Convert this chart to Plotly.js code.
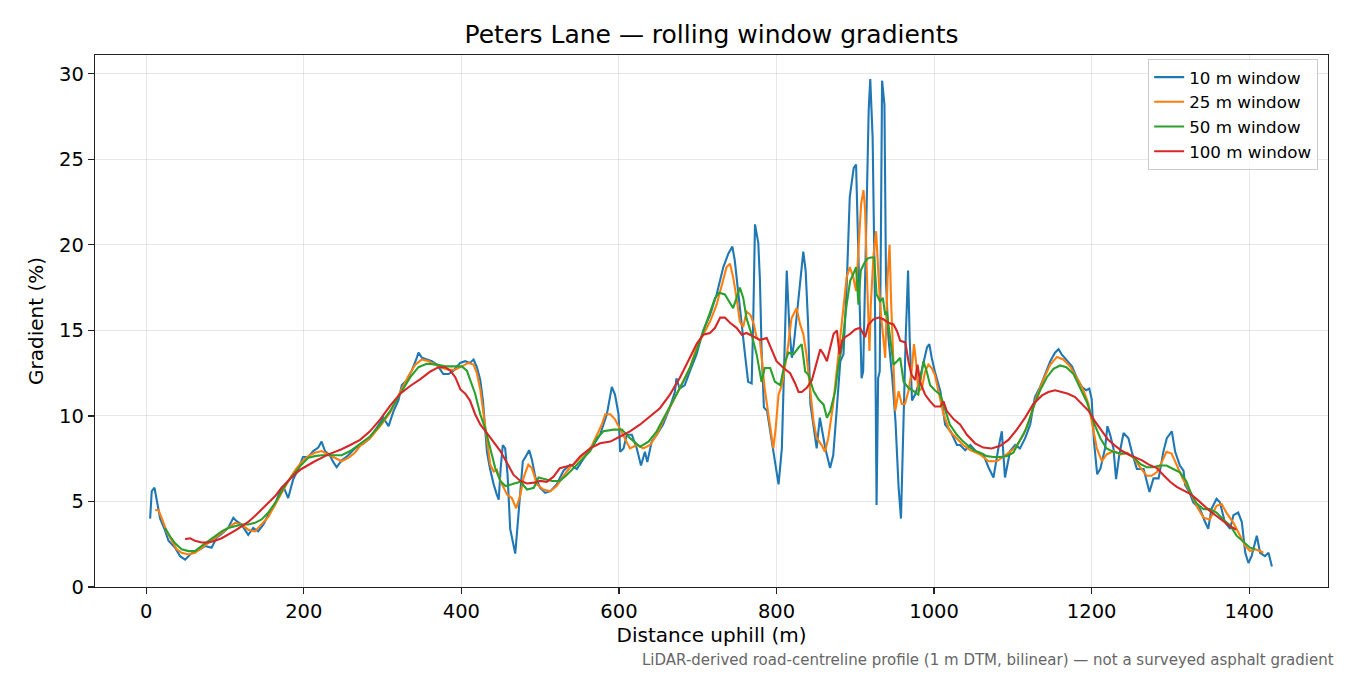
<!DOCTYPE html>
<html>
<head>
<meta charset="utf-8">
<script src="https://cdn.plot.ly/plotly-3.0.1.min.js"></script>
<style>
  html, body { margin: 0; padding: 0; background: #fff; }
  #graph { width: 1350px; height: 675px; }
</style>
</head>
<body>
<div id="graph"></div>
<script>
/* ----- Data (distance in m, gradient in %) -------------------------- */
var seriesNames = ['10 m window', '25 m window', '50 m window', '100 m window'];
var seriesColors = ['#1f77b4', '#ff7f0e', '#2ca02c', '#d62728'];

var x10 = [5,7,10.5,13.5,17.7,24,28.3,36.7,43,49.4,55.7,62,68.5,74.8,83,89.5,95.8,104,110.6,114.8,121,129.5,135.8,142,148.6,154.9,163.4,169.7,173.9,180.2,186.6,193,199,205.7,212,218.4,222.6,226.9,233,237.5,241.7,248,256.5,264.9,276,284,293,301,307.6,314,320,324.5,331,337,342.7,345.6,350,356,362.5,369,377,383.7,390,398.5,405,411,415.5,419.7,424,427.4,430,432.5,436,441,445,447.4,450,452.6,455.6,458.6,462,465.5,468.4,471,475,478,482,486,489.5,494,500,506.4,513,521,529.6,538,546.6,555,563.5,567.7,576,584.7,591,595,599.5,601.6,605.8,610,616.4,622.7,628,633,636,641.6,648,656,664.7,671,673,677,683.6,690,698.5,707,715.5,724,732.5,739,744,747,751.5,756,760,764,768.5,770.6,772.7,776.9,779,781,784,788,792,796,800,802.6,806.8,809.8,813,816.5,819.5,822,828,834,837,840,843,847,851,855,862,868,872,877,881,885,889,893,898,901,904,908,910,914,917,919,922,925,927,929,931,932.5,934,937,939,942,947,951,955,958,961,964,967,969,972,976,980,987,991,994,997,1001,1008,1014,1021,1029,1033,1039.5,1046,1054,1062.5,1069,1075.4,1081.6,1086,1090,1096.5,1103,1109,1115.6,1122,1128,1134.6,1141,1147.5,1153.5,1158,1162,1168,1175,1181,1187.5,1193,1197,1200,1203,1207,1211,1217,1220,1223.5,1227.7,1231,1235,1240.5,1246.7,1251,1257.4,1266,1273.4,1278.5,1285,1291,1295.4,1301.8,1306,1312,1316.6,1318.7,1324,1329,1337.6,1344,1348,1352,1358.5,1362.8,1369,1375.8,1380,1386,1390.6,1395,1399,1403,1409.6,1413.8,1420,1424.5,1428.8];
var g10 = [4.0,5.6,5.8,5.0,4.0,3.3,2.7,2.3,1.8,1.6,1.9,2.1,2.2,2.4,2.3,2.9,3.1,3.45,4.05,3.85,3.65,3.05,3.45,3.25,3.65,4.2,4.8,5.6,5.9,5.2,6.3,6.9,7.6,7.6,7.95,8.15,8.5,7.95,7.7,7.3,7.0,7.4,7.7,8.1,8.4,8.7,9.3,9.9,9.4,10.3,10.9,11.8,12.1,12.65,13.3,13.7,13.4,13.3,13.2,13.0,12.45,12.45,12.65,13.1,13.2,13.1,13.3,12.85,12.1,10.9,9.3,7.9,7.0,6.0,5.4,5.1,7.0,8.3,8.1,6.6,3.4,2.6,1.95,3.4,5.8,7.35,7.65,8.0,7.45,6.4,5.8,5.5,5.6,6.0,6.8,7.15,6.9,7.5,8.1,8.3,8.9,10.1,11.7,11.25,10.1,7.9,8.1,8.9,8.9,8.1,7.1,7.9,7.3,8.5,8.9,9.5,10.5,11.4,12.2,11.6,11.8,12.6,13.6,15.0,15.9,17.1,18.7,19.5,19.9,19.1,17.1,15.0,13.6,12.0,11.9,15.9,21.2,20.1,17.9,14.0,10.5,10.3,9.1,7.7,6.6,6.0,8.1,14.0,18.5,15.0,13.4,14.2,16.9,19.6,18.5,15.5,10.7,9.3,8.1,9.9,8.1,6.95,7.7,10.7,13.2,13.6,17.5,22.8,24.5,24.7,18.5,12.2,12.6,20.4,27.85,29.7,26.3,16.5,4.8,12.2,12.6,20.4,29.6,28.2,17.9,14.6,12.2,9.7,5.8,4.0,9.7,14.6,18.5,14.6,10.9,11.25,11.8,13.2,14.0,14.2,13.4,12.6,11.45,9.5,9.1,8.3,8.3,8.0,8.3,7.9,7.75,7.0,6.4,8.1,9.1,6.4,7.95,8.3,8.1,8.7,9.5,11.1,11.7,12.45,13.2,13.7,13.9,13.6,13.3,12.9,12.25,11.7,11.5,11.6,11.0,8.5,6.6,6.9,8.1,9.4,8.9,8.1,6.3,7.7,9.0,8.7,7.9,6.9,6.9,5.55,6.35,6.35,7.9,8.7,9.1,7.9,7.1,6.8,5.95,5.55,4.95,4.55,3.8,3.4,4.55,5.15,4.95,3.8,3.4,4.2,4.35,3.8,2.0,1.4,1.8,3.0,2.0,1.8,2.0,1.2];

var x25 = [11.4,15.6,19.9,26,32.5,38.8,45,53.6,62,70.5,79,87.4,95.8,104,112.7,121,129.5,138,146.5,155,163.4,171.8,180.3,188.7,197,205.7,214,222.6,231,239.5,248,256.5,264.9,271.5,284,297,309.7,322.4,333,341.5,350,358.4,367,375.5,384,392,400.6,409,415.5,419.7,424,428,432.5,436.7,441,445,449.5,453.6,458,464,469.6,475,479,485,489.5,496,504,513,521,529.6,538,546.6,555,563.5,572,578.3,582.6,589,595,601.6,608,614,622.7,631,639.5,648,656,664.7,673,681.6,690,698.5,707,715.5,724,730,736.6,741,745,749.3,753.5,757.8,762,767,771.3,774.6,779,785,789.5,793.5,796,799,802.6,806.8,813,819,825.5,830,834,838,843,847,851,857.3,861.5,865.7,872,878.4,884.8,889,893,897.5,901,904,907.4,910.4,912.5,914.6,916.7,918,919.7,923,926.4,928.5,931.5,935,938,941,943.5,945.6,948.5,950.7,955,959,963,967.5,971.5,974.5,977,980,984.4,988.6,992.8,997,1001,1005.5,1012,1020,1029,1037,1046,1058.5,1069,1079.6,1092,1103,1113.5,1122,1130,1139,1147.5,1156,1164,1172.5,1181,1189.6,1196,1202,1206.6,1213,1219,1228,1236.4,1245,1253.5,1261.5,1270,1276,1282.5,1289,1295,1301.5,1308,1316,1323,1329,1335.5,1342,1350,1358.5,1365,1371,1380,1388.4,1395,1401,1407.5,1413.8,1418];
var g25 = [4.5,4.5,4.0,3.25,2.7,2.2,2.0,1.9,2.0,2.3,2.6,2.9,3.2,3.45,3.75,3.65,3.35,3.25,3.65,4.1,4.8,5.5,6.2,6.8,7.3,7.65,7.85,7.95,7.75,7.55,7.35,7.55,7.85,8.25,8.7,9.4,10.2,11.4,12.35,13.0,13.3,13.2,13.0,12.8,12.7,12.7,12.9,13.1,13.0,12.5,11.55,10.1,8.5,7.15,6.75,6.85,6.2,5.8,5.4,5.2,4.6,5.4,6.4,7.15,6.95,6.0,5.7,5.6,5.9,6.5,7.0,7.35,7.75,8.05,8.9,9.5,10.1,10.1,9.8,9.2,8.7,8.1,8.3,8.1,8.3,8.9,9.7,10.5,11.25,12.0,12.8,14.0,14.8,15.5,16.5,17.5,18.7,18.9,18.1,16.9,15.5,15.2,16.1,15.9,15.35,14.6,14.4,11.6,10.1,8.7,8.1,9.3,11.25,11.8,13.5,15.7,16.3,15.35,14.8,13.6,11.6,9.7,8.7,8.3,7.9,8.7,10.7,13.6,16.5,18.1,18.7,18.1,17.3,20.0,22.4,23.2,22.0,18.5,14.6,13.8,16.5,19.3,20.8,19.3,16.5,14.8,13.4,18.1,20.0,16.5,12.6,10.3,11.45,10.7,10.7,11.45,12.6,14.2,13.2,11.45,11.6,12.6,13.0,12.8,12.4,11.45,10.1,9.1,8.7,8.3,8.0,7.75,7.35,7.35,7.75,8.15,8.9,9.9,11.1,12.15,13.0,13.45,13.3,12.9,12.25,11.5,10.7,9.3,8.1,7.35,7.75,7.95,7.75,7.85,7.55,7.0,6.5,6.5,6.7,7.3,7.9,7.8,7.1,6.3,5.75,5.15,4.55,4.05,3.95,4.75,4.85,4.35,3.75,3.0,2.4,2.1,2.2,2.1,2.0];

var x50 = [24,30.4,36.7,45,53.6,62,70.5,79,87.4,95.8,104,112.7,121,129.5,138,146.5,155,163.4,171.8,180.3,188.7,197,205.7,214,222.6,231,239.5,248,259,271.5,284,297,309.7,322.4,335,345.6,356,369,379.6,390,400.6,407,411,417.5,424,430,436.7,443,449.5,456,464,475,483.4,492,498,506.4,515,525,533.7,546.6,555,563.5,572,580.4,593,603.8,614,627,637.5,648,656,664.7,673,681.6,690,698.5,707,715.5,722,727.3,734.5,741,745,749.3,753.5,757.8,762,768.5,774.8,781,785,792,798,804.7,811,815.3,821.6,828,832,836.4,840.6,847,853.5,859.8,864,868.2,874.5,878.7,883,889,893.5,897.5,901,904,907,911,915.5,919.7,924,927,931.5,935,938,940,944.5,948.5,953,957,961.3,967.5,974,980,986.5,990.7,995,1001,1008,1014,1020,1029,1037,1050,1058.5,1067,1075.4,1084,1092,1100.6,1109,1117.5,1126,1134.6,1143,1151.5,1160,1168,1177,1185.4,1194,1202,1211,1219,1227.7,1236,1244.6,1253,1261.5,1270,1278,1286.6,1295,1303.5,1312,1320,1325,1333,1342,1350,1358.5,1367,1375.8,1384,1393,1401,1407.5];
var g50 = [3.45,2.95,2.55,2.2,2.1,2.1,2.4,2.7,2.95,3.25,3.45,3.55,3.65,3.65,3.75,3.95,4.35,4.9,5.6,6.2,6.7,7.15,7.55,7.65,7.7,7.7,7.7,7.7,7.95,8.35,8.8,9.5,10.3,11.3,12.25,12.85,13.05,13.0,12.9,12.9,12.9,12.65,12.15,11.3,10.1,9.3,8.1,6.95,6.2,5.9,6.0,6.15,5.7,5.8,6.4,6.3,6.2,6.2,6.55,7.15,7.55,7.95,8.7,9.1,9.2,9.2,8.7,8.2,8.5,9.1,9.8,10.5,11.25,12.0,12.8,13.8,14.95,16.1,16.9,17.2,17.1,16.6,16.3,16.9,17.5,16.9,15.7,14.75,13.6,12.0,12.8,12.8,12.0,11.8,13.2,13.7,13.6,14.0,14.2,12.6,12.4,11.45,10.96,10.66,9.9,10.27,11.45,13.0,14.0,16.5,17.9,18.3,18.7,16.5,18.5,18.9,19.2,19.26,19.26,17.1,16.7,16.9,15.9,16.1,14.6,13.0,13.2,13.4,12.0,11.64,11.45,11.25,13.2,12.6,11.8,11.5,11.25,10.3,9.5,8.9,8.5,8.0,7.85,7.65,7.6,7.6,7.65,7.85,8.55,9.3,10.5,11.5,12.25,12.75,12.95,12.85,12.45,11.65,10.8,9.7,8.7,8.1,7.9,7.8,7.8,7.6,7.2,7.0,7.0,7.1,7.1,6.9,6.7,6.2,5.6,4.9,4.55,4.55,4.35,3.95,3.6,3.0,2.6,2.3,2.2];

var x100 = [49.4,55.7,62,70.5,79,87.4,95.8,104,112.7,121,129.5,138,146.5,155,163.4,171.8,180.3,188.7,197,205.7,214,222.6,231,239.5,248,259,271.5,284,297,309.7,322.4,335,348,360.7,371,379.6,386,392.4,398.8,405,411,417.5,424,432.5,441,449.5,458,466.3,475,483.4,492,500,508.5,517,525,533.7,542,551,563.5,576,589,601.6,614,627,639.5,652,664.7,677,690,698.5,707,715.5,722,728.5,734.5,741,749.3,756,762,770.6,779,787.6,794,800,809,817.3,823.7,828,832,838.5,845,851,855.6,859.8,864,868.2,872.5,876.7,880,883,887,893.5,899.8,906,912.5,916.7,923,929.5,935.7,942,948.5,953,957,963.5,967.5,971.5,976,979,982.2,988.6,995,1001,1008,1012,1016,1025,1033,1041.7,1052,1062.5,1073,1084,1094.4,1105,1115.6,1126,1137,1145,1153.5,1162,1170,1179,1187.5,1196,1204,1213,1221,1230,1238.6,1247,1255.7,1264,1272.7,1282.7,1291,1299.6,1308,1316.6,1325,1333,1342,1350,1358.5,1367,1375.8,1383.6];
var g100 = [2.8,2.85,2.7,2.6,2.6,2.7,2.85,3.05,3.3,3.55,3.8,4.15,4.55,4.9,5.3,5.8,6.2,6.6,6.9,7.15,7.35,7.55,7.75,7.9,8.05,8.3,8.6,9.1,9.8,10.6,11.3,11.75,12.15,12.6,12.85,12.85,12.65,12.25,11.55,11.3,10.9,10.1,9.5,9.0,8.5,7.95,7.25,6.55,6.2,6.05,6.1,6.2,6.15,6.45,6.95,7.05,7.15,7.65,8.1,8.4,8.5,8.8,9.1,9.5,10.0,10.45,11.25,12.2,13.4,14.2,14.75,14.85,15.15,15.75,15.75,15.45,15.15,14.75,14.85,14.65,14.45,14.55,13.8,13.2,12.8,12.5,11.9,11.4,11.4,11.65,12.1,13.2,13.9,13.6,13.2,14.0,14.8,15.0,13.6,14.4,14.6,14.8,15.05,15.15,14.6,15.35,15.65,15.75,15.65,15.45,15.35,14.95,14.4,14.3,13.2,12.4,12.1,13.0,12.0,11.25,10.85,10.55,10.55,10.85,10.3,9.8,9.5,8.9,8.4,8.15,8.1,8.25,8.6,9.2,9.9,10.7,11.2,11.4,11.5,11.4,11.3,11.1,10.7,10.3,9.7,9.1,8.6,8.25,7.95,7.75,7.55,7.4,7.15,6.95,6.55,6.15,5.85,5.65,5.45,5.15,4.75,4.45,4.15,3.85,3.55,3.35];

var xTicks = [0, 200, 400, 600, 800, 1000, 1200, 1400];
var yTicks = [0, 5, 10, 15, 20, 25, 30];

/* ------ Build traces ------- */
var xs = [x10, x25, x50, x100];
var ys = [g10, g25, g50, g100];
var data = [];
for (var i = 0; i < xs.length; i++) {
    data.push({
        x: xs[i],
        y: ys[i],
        name: seriesNames[i],
        mode: 'lines',
        line: { color: seriesColors[i], width: 2.1 },
        hoverinfo: 'skip'
    });
}

var font = 'DejaVu Sans, Liberation Sans, sans-serif';
var axisCommon = {
    showline: true,
    mirror: true,
    linecolor: '#222',
    linewidth: 1.2,
    ticks: 'outside',
    ticklen: 6,
    tickwidth: 1.2,
    tickcolor: '#222',
    showgrid: true,
    gridcolor: 'rgba(176,176,176,0.3)',
    gridwidth: 1,
    zeroline: false,
    tickfont: { family: font, size: 19.5, color: '#000' }
};

var layout = {
    width: 1350,
    height: 675,
    paper_bgcolor: '#fff',
    plot_bgcolor: '#fff',
    margin: { l: 95, r: 22, t: 55, b: 88 },
    title: {
        text: 'Peters Lane \u2014 rolling window gradients',
        font: { family: font, size: 25, color: '#000' },
        x: 0.5 + (95 - 22) / 2 / 1350,
        xanchor: 'center',
        y: 1 - 34 / 675,
        yanchor: 'middle'
    },
    xaxis: Object.assign({}, axisCommon, {
        range: [-65, 1500],
        tickvals: xTicks,
        title: { text: 'Distance uphill (m)', font: { family: font, size: 20, color: '#000' }, standoff: 6 }
    }),
    yaxis: Object.assign({}, axisCommon, {
        range: [0, 31.1],
        tickvals: yTicks,
        title: { text: 'Gradient (%)', font: { family: font, size: 20, color: '#000' }, standoff: 10 }
    }),
    showlegend: true,
    legend: {
        x: 0.992,
        y: 0.993,
        xanchor: 'right',
        yanchor: 'top',
        bgcolor: 'rgba(255,255,255,0.8)',
        bordercolor: '#cccccc',
        borderwidth: 1,
        font: { family: font, size: 16.7, color: '#000' },
        tracegroupgap: 0,
        itemwidth: 30
    },
    annotations: [{
        text: 'LiDAR-derived road-centreline profile (1 m DTM, bilinear) \u2014 not a surveyed asphalt gradient',
        xref: 'paper',
        yref: 'paper',
        x: (1336 - 95) / 1233,
        y: (587 - 660) / 532,
        xanchor: 'right',
        yanchor: 'middle',
        showarrow: false,
        font: { family: font, size: 15, color: '#666666' }
    }]
};

graph = document.getElementById('graph');
Plotly.newPlot(graph, data, layout, { displayModeBar: false, staticPlot: true });
</script>
</body>
</html>
